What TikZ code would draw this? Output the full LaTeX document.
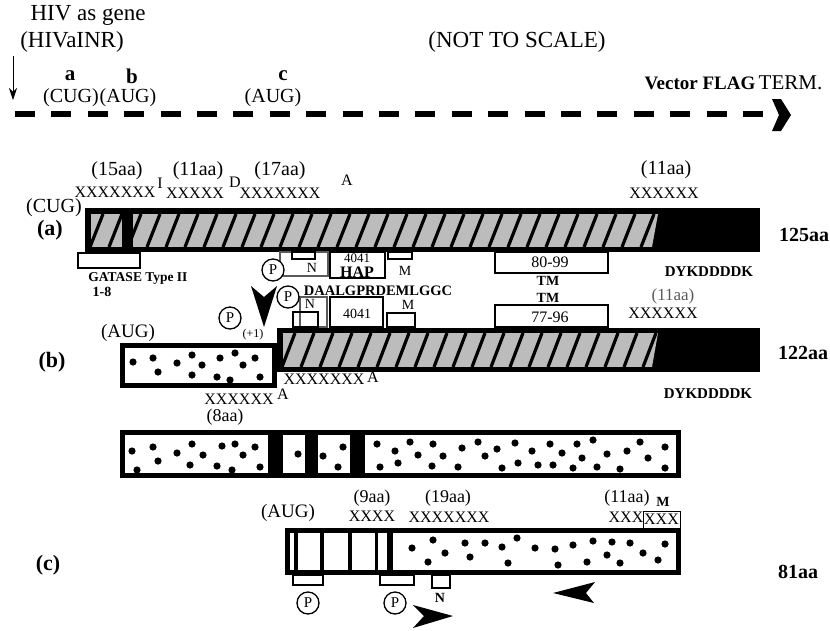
\documentclass[tikz,border=0pt]{standalone}
\usepackage{fontspec}
\setmainfont{Liberation Serif}
\usetikzlibrary{arrows.meta, positioning}
\definecolor{hatchgray}{RGB}{188,188,188}
\definecolor{fadegray}{RGB}{90,90,90}

% hatched stretch of a bar: x1, ytop, x2, ybottom
\newcommand{\hatchzone}[4]{%
  \begin{scope}
    \clip (#1,#2) -- (#3,#2) -- (#3-6,#4) -- (#1,#4) -- cycle;
    \fill[hatchgray] (#1,#2) rectangle (#3,#4);
    \foreach \hx in {-20,-1,...,600}
      \draw[line width=3.2pt] (#1+\hx,#4) -- (#1+\hx+13,#2);
  \end{scope}}
% dots inside the open bars
\newcommand{\specks}[1]{\foreach \dx/\dy in {#1} \fill (\dx,\dy) circle (3.6pt);}

\begin{document}
\begin{tikzpicture}[x=1pt, y=-1pt,
    big/.style={inner sep=0pt, font=\fontsize{23}{25}\selectfont},
    txt/.style={inner sep=0pt, font=\fontsize{20}{22}\selectfont},
    hdr/.style={inner sep=0pt, font=\fontsize{22}{24}\selectfont\bfseries},
    xs/.style={inner sep=0pt, font=\fontsize{16}{18}\selectfont},
    sml/.style={inner sep=0pt, font=\fontsize{14}{16}\selectfont},
    smlb/.style={inner sep=0pt, font=\fontsize{14}{16}\selectfont\bfseries},
    pcirc/.style={circle, draw, line width=1.3pt, fill=white, inner sep=0pt, minimum size=22pt, font=\fontsize{15}{16}\selectfont},
    thinbox/.style={draw, line width=1.3pt},
    bar/.style={draw, line width=5pt, fill=white}]
\useasboundingbox (0,0) rectangle (830,630);

% --- gene line
\node[big] (hivgene) at (88,15) {HIV as gene};
\node[big] (hivalnr) at (72,42) {(HIVaINR)};
\coordinate (arrtop) at (13,56);
\coordinate (vecL) at (15,114);
\coordinate (vecR) at (768,114);
\draw[-{Stealth[length=12pt,width=8pt]}, line width=0.8pt] (arrtop) -- (13,100);
\draw[line width=5.5pt, dash pattern=on 20pt off 16.4pt] (vecL) -- (vecR);
\fill (772,99) -- (781,99) -- (791,115) -- (781,131) -- (772,131) -- (779,115) -- cycle;
\node[hdr, font=\fontsize{21}{23}\selectfont\bfseries] (sa) at (70,76) {a};
\node[txt] (cuga) at (71,98) {(CUG)};
\node[hdr, font=\fontsize{21}{23}\selectfont\bfseries] (sb) at (132,76) {b};
\node[txt] (augb) at (128,98) {(AUG)};
\node[hdr, font=\fontsize{21}{23}\selectfont\bfseries] (sc) at (283,76) {c};
\node[txt] (augc) at (273,98) {(AUG)};
\node[big] (noscale) at (517,42) {(NOT TO SCALE)};
\node[inner sep=0pt, font=\fontsize{19}{21}\selectfont\bfseries] (flag) at (700,83) {Vector FLAG};
\node[inner sep=0pt, font=\fontsize{21}{23}\selectfont, right=3pt of flag] (term) {TERM.};

% --- (a)
\node[txt] (aa15) at (117,171) {(15aa)};
\node[xs] (mi) at (160,183) {I};
\node[txt] (aa11) at (198,171) {(11aa)};
\node[xs] (md) at (235,182) {D};
\node[txt] (aa17) at (280,171) {(17aa)};
\node[xs] (ma) at (347,180) {A};
\node[xs] (xa1) at (115,192) {XXXXXXX};
\node[xs] (xa2) at (195,193) {XXXXX};
\node[xs] (xa3) at (280,193) {XXXXXXX};
\node[txt] (aa11r) at (666,170) {(11aa)};
\node[xs] (xa4) at (664,193) {XXXXXX};
\node[txt] (cuga2) at (54,208) {(CUG)};
\node[hdr] (laba) at (50,230) {(a)};
\node[hdr, font=\fontsize{20}{22}\selectfont\bfseries] (len125) at (804,235) {125aa};

\fill (85,208) rectangle (760,252);
\hatchzone{91}{214}{658}{247}
\fill (122,214) rectangle (133,247);

\draw[line width=2pt, fill=white] (78,253) rectangle (140,268);
\node[inner sep=0pt, font=\fontsize{13.5}{15}\selectfont\bfseries] (gatase) at (138,278) {GATASE Type II};
\node[smlb] (gat18) at (102,292) {1-8};

\draw[thinbox, draw=fadegray] (280,252) rectangle (328,276);
\draw[thinbox] (292,252) rectangle (315,259);
\node[sml] (na) at (312,268) {N};
\node[pcirc] (pa) at (273,270) {P};
\draw[line width=1.5pt] (330,252) rectangle (385,278);
\node[inner sep=0pt, font=\fontsize{13}{14}\selectfont] (hap4041) at (357,258) {4041};
\node[inner sep=0pt, font=\fontsize{16}{18}\selectfont\bfseries] (hap) at (357,272) {HAP};
\draw[thinbox] (388,252) rectangle (412,259);
\node[sml] (mma) at (405,271) {M};
\draw[line width=1.5pt] (495,252) rectangle (608,273);
\node[xs] (tm8099) at (550,262) {80-99};
\node[smlb] (tma) at (548,281) {TM};
\node[inner sep=0pt, font=\fontsize{15}{17}\selectfont\bfseries] (dyka) at (709,272) {DYKDDDDK};
\node[inner sep=0pt, font=\fontsize{14.5}{16}\selectfont\bfseries] (daal) at (378,291) {DAALGPRDEMLGGC};

% --- (b)
\draw[thinbox, draw=fadegray] (300,297) rectangle (327,327);
\node[pcirc] (pb1) at (288,297) {P};
\draw[thinbox] (293,312) rectangle (318,327);
\node[sml] (nb) at (310,304) {N};
\draw[line width=1.5pt] (330,297) rectangle (383,327);
\node[sml] (b4041) at (357,314) {4041};
\node[sml] (mmb) at (408,305) {M};
\draw[thinbox] (387,313) rectangle (415,327);
\node[smlb] (tmb) at (548,298) {TM};
\draw[line width=1.5pt] (495,305) rectangle (608,327);
\node[xs] (tm7796) at (550,317) {77-96};
\node[inner sep=0pt, font=\fontsize{17}{19}\selectfont, text=fadegray] (aa11b) at (673,296) {(11aa)};
\node[xs] (xb4) at (663,313) {XXXXXX};

\fill (251,286) -- (264,297) -- (277,286) -- (264,327) -- cycle;
\node[pcirc] (pb2) at (230,318) {P};
\node[inner sep=0pt, font=\fontsize{12}{13}\selectfont] (plus1) at (253,335) {(+1)};

\node[inner sep=0pt, font=\fontsize{19}{21}\selectfont] (augb2) at (128,333) {(AUG)};
\node[hdr] (labb) at (52,362) {(b)};
\node[hdr, font=\fontsize{20}{22}\selectfont\bfseries] (len122) at (803,353) {122aa};

\fill (277,328) rectangle (760,372);
\hatchzone{283}{333}{658}{367}
\draw[bar] (122.5,345.5) rectangle (274.5,385.5);
\specks{133/362,153/358,158/372,177/363,192/355,192/375,202/365,220/358,217/377,235/353,243/365,255/358,260/377,230/380}

\node[xs] (xb1) at (324,379) {XXXXXXX};
\node[xs] (ab1) at (373,377) {A};
\node[xs] (xb2) at (239,399) {XXXXXX};
\node[xs] (ab2) at (283,394) {A};
\node[inner sep=0pt, font=\fontsize{18}{20}\selectfont] (aa8) at (225,417) {(8aa)};
\node[inner sep=0pt, font=\fontsize{15}{17}\selectfont\bfseries] (dykb) at (708,394) {DYKDDDDK};

% --- spliced bar
\draw[bar] (122.5,432.5) rectangle (678.5,475.5);
\specks{132/451,137/470,153/447,158/461,177/453,192/444,190/465,203/455,217/466,222/446,235/444,243/455,255/447,232/470,260/467,
  298/454,323/456,343/447,338/467,
  377/444,380/467,395/451,398/463,410/442,418/455,433/444,432/466,443/456,458/467,462/448,478/442,485/456,497/449,502/468,
  515/443,518/463,532/451,538/465,550/444,553/465,562/453,573/468,577/444,582/458,593/440,597/467,607/454,620/469,627/451,
  640/442,648/458,665/447,665/468}
\fill (268,432) rectangle (283,476);
\fill (305,432) rectangle (318,476);
\fill (350,432) rectangle (365,476);

% --- (c)
\node[inner sep=0pt, font=\fontsize{19}{21}\selectfont] (augc2) at (288,513) {(AUG)};
\node[inner sep=0pt, font=\fontsize{18}{20}\selectfont] (aa9) at (372,498) {(9aa)};
\node[xs] (xc1) at (372,516) {XXXX};
\node[inner sep=0pt, font=\fontsize{18}{20}\selectfont] (aa19) at (448,498) {(19aa)};
\node[xs] (xc2) at (449,517) {XXXXXXX};
\node[inner sep=0pt, font=\fontsize{18}{20}\selectfont] (aa11c) at (627,498) {(11aa)};
\node[smlb] (mc) at (663,502) {M};
\node[xs] (xc3) at (626,517) {XXX};
\node[xs, draw, line width=0.8pt, minimum width=37pt, minimum height=17pt] (xc4) at (661.5,519.5) {XXX};
\node[hdr] (labc) at (48,565) {(c)};
\node[hdr, font=\fontsize{20}{22}\selectfont\bfseries] (len81) at (798,572) {81aa};

\draw[bar] (287.5,530.5) rectangle (678.5,572.5);
\fill (294,530) rectangle (298,573);
\fill (320,530) rectangle (324,573);
\fill (348,530) rectangle (352,573);
\fill (375,530) rectangle (378,573);
\fill (387,530) rectangle (393,573);
\specks{412/548,428/562,433/540,445/553,465/543,470/557,485/543,502/547,508/563,517/538,535/548,555/549,558/565,
  573/545,587/562,593/541,607/555,612/542,620/563,630/543,643/553,658/560,665/544}

\draw[thinbox] (293,575) rectangle (323,585);
\draw[thinbox] (380,575) rectangle (414,585);
\draw[thinbox] (432,575) rectangle (450,588);
\node[smlb] (nc) at (440,598) {N};
\node[pcirc] (pc1) at (308,603) {P};
\node[pcirc] (pc2) at (395,603) {P};
\fill (413,605) -- (453,616) -- (413,628) -- (424,616) -- cycle;
\fill (553,593) -- (595,582) -- (586,593) -- (594,603) -- cycle;
\end{tikzpicture}
\end{document}
